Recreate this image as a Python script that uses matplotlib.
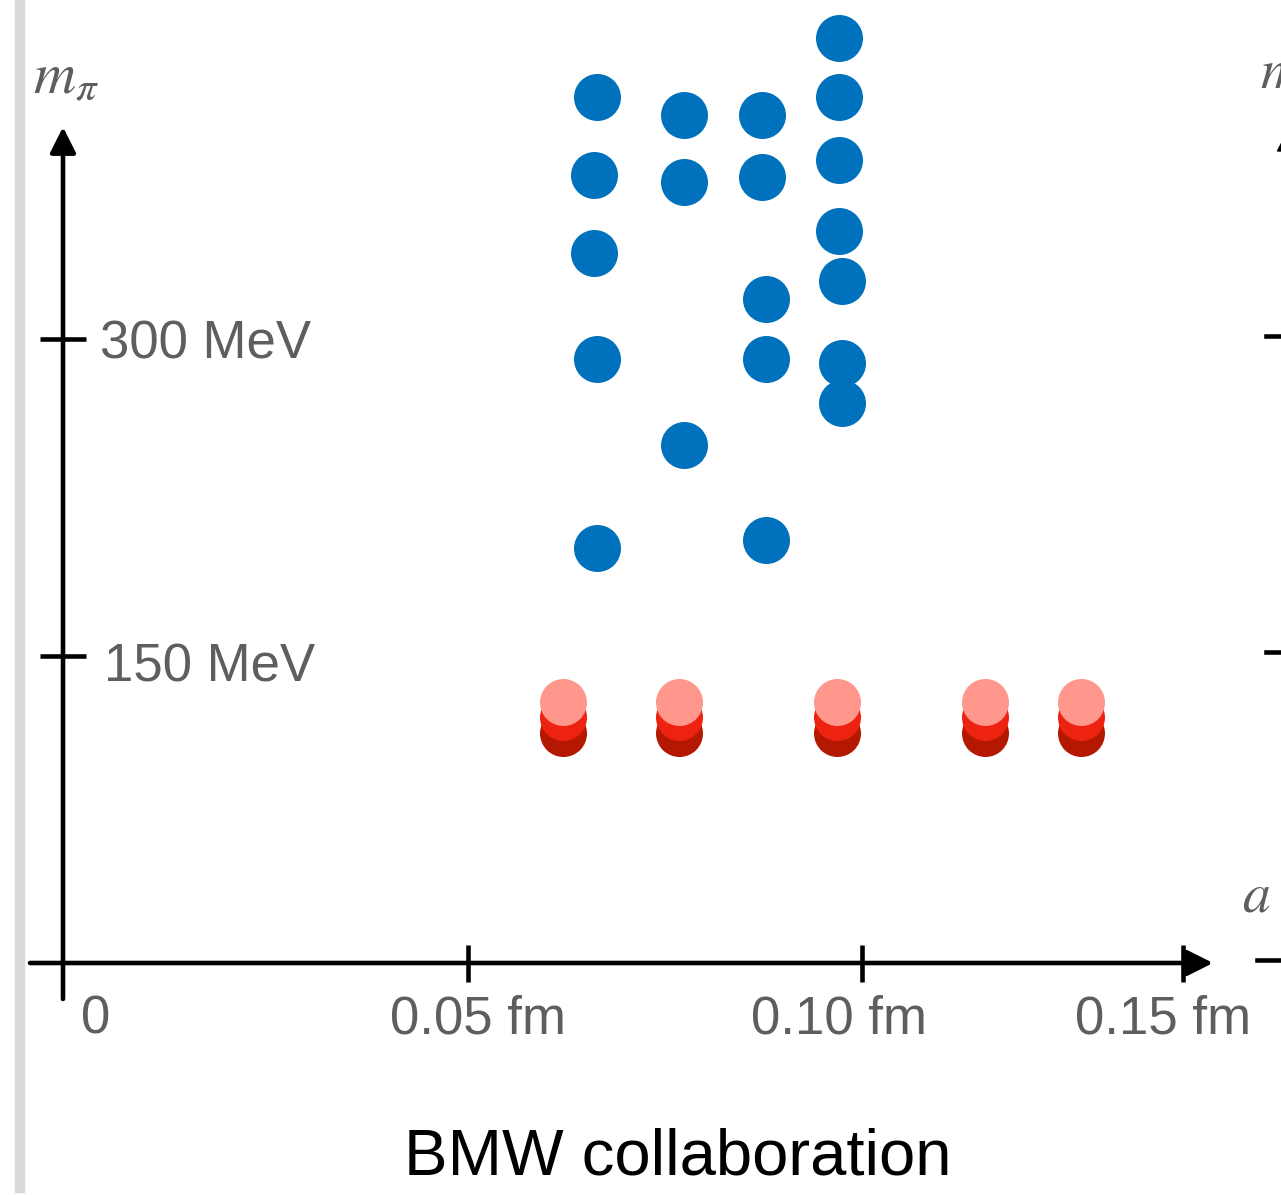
#!/usr/bin/env python3
"""
plot.py
Simulation points of the BMW collaboration in the (a, m_pi) plane:
blue = earlier ensembles, red = physical-point ensembles (three shades).
"""

import numpy as np
import matplotlib
matplotlib.use("Agg")
import matplotlib.pyplot as plt
from matplotlib import transforms as mtransforms
from matplotlib.patches import Rectangle, Polygon

W, H = 1281, 1195
DPI = 100

BLUE = "#0071bc"
RED_LIGHT = "#ff978d"
RED_MID = "#ee2211"
RED_DARK = "#b41800"
GRAY = "#5e5e5e"
LW = 3.3

# lattice spacing a [fm] and pion mass [MeV] of the older ensembles
blue_a = [0.0664, 0.0660, 0.0660, 0.0664, 0.0664,
          0.0774, 0.0774, 0.0774,
          0.0873, 0.0873, 0.0878, 0.0878, 0.0878,
          0.0971, 0.0971, 0.0971, 0.0971, 0.0975, 0.0975, 0.0975]
blue_mpi = [414.5, 377.6, 340.7, 290.5, 201.1,
            406.0, 374.3, 249.8,
            406.0, 376.7, 318.9, 290.5, 204.9,
            442.4, 414.5, 384.7, 351.1, 327.4, 288.6, 269.7]

# physical-point ensembles, three pion masses per lattice spacing
red_a = [0.0620, 0.0768, 0.0968, 0.1192, 0.1341]
red_mpi_dark = [112.4, 112.4, 112.4, 112.4, 112.4]
red_mpi_mid = [120.2, 120.2, 120.2, 120.2, 120.2]
red_mpi_light = [127.5, 127.5, 127.5, 127.5, 127.5]

x_ticks = [0.05, 0.10, 0.15]
x_tick_labels = ["0.05 fm", "0.10 fm", "0.15 fm"]
y_ticks = [150, 300]
y_tick_labels = ["150 MeV", "300 MeV"]

# the axes of the sketch are not evenly spaced: piecewise-linear scales
x_knots = [0.0, 0.05, 0.10, 0.15]
x_knot_px = [63, 468, 862, 1183]
y_knots = [0.0, 150.0, 300.0]
y_knot_px = [H - 963, H - 656, H - 339]


def piecewise(a, b):
    a = np.asarray(a, float)
    b = np.asarray(b, float)
    s_lo = (b[1] - b[0]) / (a[1] - a[0])
    s_hi = (b[-1] - b[-2]) / (a[-1] - a[-2])

    def f(v):
        v = np.asarray(v, float)
        out = np.interp(v, a, b)
        out = np.where(v < a[0], b[0] + (v - a[0]) * s_lo, out)
        out = np.where(v > a[-1], b[-1] + (v - a[-1]) * s_hi, out)
        return out
    return f


def main():
    plt.rcParams["font.family"] = ["Liberation Sans", "DejaVu Sans"]
    plt.rcParams["mathtext.fontset"] = "stix"

    fx, fx_inv = piecewise(x_knots, x_knot_px), piecewise(x_knot_px, x_knots)
    fy, fy_inv = piecewise(y_knots, y_knot_px), piecewise(y_knot_px, y_knots)

    fig = plt.figure(figsize=(W / DPI, H / DPI), dpi=DPI)
    ax = fig.add_axes([0, 0, 1, 1])
    ax.set_xscale("function", functions=(fx, fx_inv))
    ax.set_yscale("function", functions=(fy, fy_inv))
    ax.set_xlim(float(fx_inv(0)), float(fx_inv(W)))
    ax.set_ylim(float(fy_inv(0)), float(fy_inv(H)))
    ax.patch.set_visible(False)

    # pixel frame (origin top left) for decorations outside the data
    pix = mtransforms.Affine2D().scale(1 / W, -1 / H).translate(0, 1) + fig.transFigure

    fig.patches.append(Rectangle((15 / W, 3 / H), 9 / W, 1192 / H,
                                 transform=fig.transFigure, color="#d9d9d9", zorder=0))

    # axes crossing at the origin
    for s in ax.spines.values():
        s.set_visible(False)
    ax.spines["bottom"].set_position(("data", 0))
    ax.spines["right"].set_position(("data", 0))
    ax.xaxis.set_ticks_position("bottom")
    ax.yaxis.set_ticks_position("right")
    ax.set_xticks(x_ticks)
    ax.set_yticks(y_ticks)
    ax.tick_params(axis="x", direction="inout", length=37 * 0.72, width=LW,
                   labelbottom=False)
    ax.tick_params(axis="y", direction="inout", length=47 * 0.72, width=LW,
                   labelright=False)
    ax.minorticks_off()

    arrow = dict(arrowstyle="-|>,head_length=15.5,head_width=7.8", mutation_scale=1,
                 lw=LW, color="black", shrinkA=0, shrinkB=0)
    ax.annotate("", xy=(float(fx_inv(1213)), 0), xytext=(float(fx_inv(30)), 0),
                arrowprops=arrow)
    ax.annotate("", xy=(0, float(fy_inv(H - 127))), xytext=(0, float(fy_inv(H - 999))),
                arrowprops=arrow)

    # tick labels
    ax.annotate("0", xy=(0, 0), xytext=(33, -70), textcoords="offset pixels",
                ha="center", va="baseline", fontsize=38, color=GRAY)
    for t, lab, dx in zip(x_ticks, x_tick_labels, [10, -23, -20]):
        ax.annotate(lab, xy=(t, 0), xytext=(dx, -70), textcoords="offset pixels",
                    ha="center", va="baseline", fontsize=38, color=GRAY)
    for t, lab, dx, dy in zip(y_ticks, y_tick_labels, [41, 37], [-25, -19]):
        ax.annotate(lab, xy=(0, t), xytext=(dx, dy), textcoords="offset pixels",
                    ha="left", va="baseline", fontsize=38, color=GRAY)

    ax.text(33, 94, r"$m_\pi$", transform=pix, fontsize=42, color=GRAY,
            ha="left", va="baseline")
    ax.text(1242, 912, r"$a$", transform=pix, fontsize=40, color=GRAY,
            ha="left", va="baseline")

    # ensembles
    size = (47 * 0.72) ** 2
    ax.scatter(blue_a, blue_mpi, s=size, c=BLUE, linewidths=0, zorder=3)
    for mpi, col in [(red_mpi_dark, RED_DARK), (red_mpi_mid, RED_MID),
                     (red_mpi_light, RED_LIGHT)]:
        ax.scatter(red_a, mpi, s=size, c=col, linewidths=0, zorder=3)

    # edge of the neighbouring panel
    ax.plot([1290, 1290], [150, 1000], transform=pix, color="black", lw=LW,
            clip_on=False)
    ax.add_patch(Polygon([(1277.5, 151), (1290, 127), (1302.5, 151)], closed=True,
                         transform=pix, color="black", clip_on=False))
    for yy in [336, 652]:
        ax.plot([1266, 1314], [yy, yy], transform=pix, color="black", lw=LW,
                clip_on=False)
    ax.plot([1257, 1400], [960, 960], transform=pix, color="black", lw=LW,
            clip_on=False)
    ax.text(1260, 88, r"$m$", transform=pix, fontsize=40, color=GRAY,
            ha="left", va="baseline")

    ax.text(678, 1175, "BMW collaboration", transform=pix, fontsize=47,
            color="black", ha="center", va="baseline")

    fig.savefig("out.png", dpi=DPI)
    plt.close(fig)


if __name__ == "__main__":
    main()
